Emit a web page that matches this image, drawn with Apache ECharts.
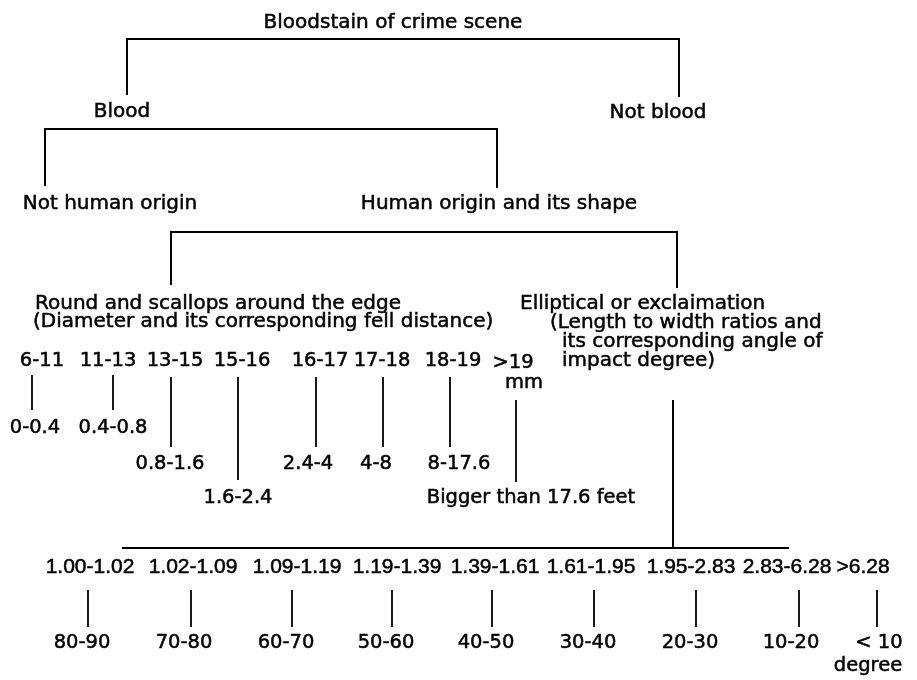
<!DOCTYPE html>
<html><head><meta charset="utf-8">
<script src="https://cdn.jsdelivr.net/npm/echarts@6/dist/echarts.min.js"></script>
<style>html,body{margin:0;padding:0;background:#fff}#chart{width:917px;height:680px}</style>
</head><body><div id="chart"></div>
<script>
// ---------------- data (labels of the tree) ----------------
const rootLabel = 'Bloodstain of crime scene';
const stainTypes = ['Blood', 'Not blood'];
const bloodOrigins = ['Not human origin', 'Human origin and its shape'];
const roundShapeLines = ['Round and scallops around the edge', '(Diameter and its corresponding fell distance)'];
const ellipticalShapeLines = ['Elliptical or exclaimation', '(Length to width ratios and', 'its corresponding angle of', 'impact degree)'];
const diameterRanges = ['6-11', '11-13', '13-15', '15-16', '16-17', '17-18', '18-19', '>19'];
const diameterUnit = 'mm';
const fellDistances = ['0-0.4', '0.4-0.8', '0.8-1.6', '1.6-2.4', '2.4-4', '4-8', '8-17.6', 'Bigger than 17.6 feet'];
const ratioRanges = ['1.00-1.02', '1.02-1.09', '1.09-1.19', '1.19-1.39', '1.39-1.61', '1.61-1.95', '1.95-2.83', '2.83-6.28', '>6.28'];
const impactAngles = ['80-90', '70-80', '60-70', '50-60', '40-50', '30-40', '20-30', '10-20', '< 10'];
const angleUnit = 'degree';

// ---------------- layout (diagram frame units) ----------------
const FONT = 'DejaVu Sans';
const FONT_NUM = '"Liberation Sans", Arial, sans-serif';
const TEXT_DY = 2;
const SZ_WORD = 20, SZ_DIAM = 19.5, SZ_DIST = 19.5, SZ_RATIO = 21, SZ_ANGLE = 19.5;
const rootPos = [393, 21];
const stainPos = [[122, 110], [658, 111]];
const originPos = [[110, 202], [499, 202]];
const roundPos = [[35, 302], [33, 320]];
const ellPos = [[520, 302], [550, 321], [562, 340], [562, 359]];
const diamX = [42, 108, 175, 242, 320, 382, 453, 513];
const diamY = [359, 359, 359, 359, 359, 359, 359, 361];
const diamUnitPos = [524, 381];
const distX = [35, 113, 170, 238, 308, 376, 459, 531];
const distY = [426, 426, 462, 496, 462, 462, 462, 496];
const diamLinkX = [32, 113, 171, 238, 316, 383, 450, 516];
const diamLinkTop = [375, 375, 377, 377, 377, 377, 377, 400];
const diamLinkBot = [410, 410, 447, 480, 447, 447, 447, 482];
const ratioX = [90, 193, 297, 397, 495, 591, 691, 787, 863];
const ratioY = 565;
const angleLinkX = [88, 191, 292, 392, 492, 594, 696, 799, 877];
const angleLinkTop = 590, angleLinkBot = 627;
const angleX = [82, 184, 286, 386, 486, 588, 690, 791, 879];
const angleY = 641;
const angleUnitPos = [868, 664];
const brackets = [
  [[127, 95], [127, 39], [679, 39], [679, 97]],
  [[45, 186], [45, 129], [497, 129], [497, 188]],
  [[171, 285], [171, 232], [677, 232], [677, 288]],
  [[673, 400], [673, 548]],
  [[122, 548], [789, 548]]
];

// ---------------- build marks ----------------
const texts = [];
function addText(t, pos, size, align, family) { texts.push({ t: t, x: pos[0], y: pos[1], size: size, align: align || 'center', family: family || FONT }); }
addText(rootLabel, rootPos, SZ_WORD);
stainTypes.forEach((t, i) => addText(t, stainPos[i], SZ_WORD));
bloodOrigins.forEach((t, i) => addText(t, originPos[i], SZ_WORD));
roundShapeLines.forEach((t, i) => addText(t, roundPos[i], SZ_WORD, 'left'));
ellipticalShapeLines.forEach((t, i) => addText(t, ellPos[i], SZ_WORD, 'left'));
diameterRanges.forEach((t, i) => addText(t, [diamX[i], diamY[i]], SZ_DIAM));
addText(diameterUnit, diamUnitPos, SZ_DIAM);
fellDistances.forEach((t, i) => addText(t, [distX[i], distY[i]], SZ_DIST));
ratioRanges.forEach((t, i) => addText(t, [ratioX[i], ratioY], SZ_RATIO, 'center', FONT_NUM));
impactAngles.forEach((t, i) => addText(t, [angleX[i], angleY], SZ_ANGLE));
addText(angleUnit, angleUnitPos, SZ_ANGLE);

const paths = [];
brackets.forEach(b => paths.push({ pts: b, w: 2 }));
diameterRanges.forEach((_, i) => paths.push({ pts: [[diamLinkX[i], diamLinkTop[i]], [diamLinkX[i], diamLinkBot[i]]], w: 1.8 }));
ratioRanges.forEach((_, i) => paths.push({ pts: [[angleLinkX[i], angleLinkTop], [angleLinkX[i], angleLinkBot]], w: 1.8 }));

const chart = echarts.init(document.getElementById('chart'), null, { renderer: 'canvas' });
chart.setOption({
  backgroundColor: '#ffffff',
  animation: false,
  grid: { left: 0, right: 0, top: 0, bottom: 0, containLabel: false },
  xAxis: { type: 'value', min: 0, max: 917, show: false },
  yAxis: { type: 'value', min: 0, max: 680, inverse: true, show: false },
  series: [
    {
      type: 'custom', silent: true, clip: false,
      data: paths.map(p => p.pts[0]),
      renderItem: function (params, api) {
        const p = paths[params.dataIndex];
        return {
          type: 'polyline',
          shape: { points: p.pts.map(pt => api.coord(pt)) },
          style: { stroke: '#000', lineWidth: p.w, fill: null }
        };
      }
    },
    {
      type: 'custom', silent: true, clip: false,
      data: texts.map(d => [d.x, d.y]),
      renderItem: function (params, api) {
        const d = texts[params.dataIndex];
        const c = api.coord([d.x, d.y]);
        return {
          type: 'text', x: c[0], y: c[1] + TEXT_DY,
          style: {
            text: d.t, fill: '#000', stroke: '#000', lineWidth: 0.5,
            fontSize: d.size, fontFamily: d.family, align: d.align, verticalAlign: 'middle'
          }
        };
      }
    }
  ]
});
</script></body></html>
